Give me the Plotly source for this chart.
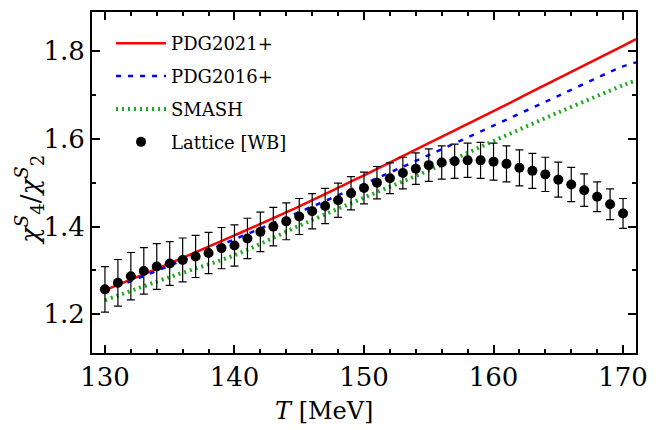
import plotly.graph_objects as go

# Model curves: temperature grid [MeV] and chi4/chi2 of strangeness
T_model = [130, 135, 140, 145, 150, 155, 160, 165, 170, 171]
pdg2021 = [1.255, 1.316, 1.380, 1.446, 1.517, 1.590, 1.663, 1.738, 1.812, 1.827]
pdg2016 = [1.252, 1.311, 1.371, 1.433, 1.497, 1.563, 1.630, 1.698, 1.765, 1.774]
smash = [1.232, 1.285, 1.335, 1.402, 1.466, 1.528, 1.595, 1.660, 1.722, 1.733]

# Lattice QCD results (Wuppertal-Budapest)
T_lat = list(range(130, 171))
lat_val = [1.257, 1.272, 1.287, 1.299, 1.309, 1.316, 1.324, 1.332, 1.340, 1.351,
           1.357, 1.373, 1.388, 1.400, 1.412, 1.423, 1.435, 1.447, 1.460, 1.476,
           1.488, 1.500, 1.510, 1.522, 1.532, 1.540, 1.546, 1.549, 1.551, 1.551,
           1.548, 1.543, 1.534, 1.527, 1.519, 1.507, 1.496, 1.483, 1.468, 1.451,
           1.430]
lat_err = [0.052, 0.053, 0.054, 0.053, 0.052, 0.050, 0.050, 0.048, 0.047, 0.047,
           0.047, 0.046, 0.045, 0.044, 0.042, 0.041, 0.040, 0.040, 0.039, 0.038,
           0.036, 0.037, 0.035, 0.036, 0.036, 0.037, 0.038, 0.039, 0.039, 0.041,
           0.042, 0.041, 0.041, 0.040, 0.039, 0.040, 0.039, 0.037, 0.034, 0.035,
           0.034]

x_ticks = [130, 140, 150, 160, 170]
y_ticks = [1.2, 1.4, 1.6, 1.8]

SERIF = "DejaVu Serif"

fig = go.Figure()
fig.add_trace(go.Scatter(x=T_model, y=pdg2021, mode="lines", name="PDG2021+",
                         legendgroup="a",
                         line=dict(color="#ff0000", width=2.5, shape="spline")))
fig.add_trace(go.Scatter(x=T_model, y=pdg2016, mode="lines", name="PDG2016+",
                         legendgroup="b",
                         line=dict(color="#0000ff", width=2.5, dash="5px,7px",
                                   shape="spline")))
fig.add_trace(go.Scatter(x=T_model, y=smash, mode="lines", name="SMASH",
                         legendgroup="c",
                         line=dict(color="#1aaa1a", width=4, dash="2px,4px",
                                   shape="spline")))
fig.add_trace(go.Scatter(x=T_lat, y=lat_val, mode="markers", name="Lattice [WB]",
                         legendgroup="d",
                         marker=dict(color="black", size=10),
                         error_y=dict(type="data", array=lat_err, color="black",
                                      thickness=1.2, width=4)))

axis_common = dict(
    showline=True, linecolor="black", linewidth=2, mirror="ticks",
    ticks="inside", tickcolor="black", tickwidth=1.5, ticklen=8,
    showgrid=False, zeroline=False,
    tickfont=dict(family=SERIF, size=26, color="black"),
)
fig.update_xaxes(range=[129, 171], tickvals=x_ticks,
                 minor=dict(dtick=2, ticks="inside", ticklen=4, tickwidth=1.5,
                            tickcolor="black", showgrid=False),
                 **axis_common)
fig.update_yaxes(range=[1.112, 1.889], tickvals=y_ticks, tickformat=".1f",
                 minor=dict(dtick=0.1, ticks="inside", ticklen=4, tickwidth=1.5,
                            tickcolor="black", showgrid=False),
                 **axis_common)

fig.add_annotation(text="<i>T</i> [MeV]", xref="paper", yref="paper",
                   x=0.427, y=-0.17, yanchor="middle", showarrow=False,
                   font=dict(family=SERIF, size=24, color="black"))
fig.add_annotation(text="<i>χ</i><sup><i>S</i></sup><sub>4</sub>/<i>χ</i><sup><i>S</i></sup><sub>2</sub>",
                   xref="paper", yref="paper", x=-0.115, y=0.45, textangle=-90,
                   xanchor="center", yanchor="middle", showarrow=False,
                   font=dict(family=SERIF, size=26, color="black"))

fig.update_layout(
    width=658, height=430,
    margin=dict(l=92, r=11, t=10, b=77),
    paper_bgcolor="white", plot_bgcolor="white",
    showlegend=True,
    legend=dict(x=0.035, y=0.962, xanchor="left", yanchor="top",
                bgcolor="rgba(0,0,0,0)", itemwidth=50,
                font=dict(family=SERIF, size=18, color="black"),
                tracegroupgap=6.5, traceorder="grouped"),
)

fig.write_html("out.html")
